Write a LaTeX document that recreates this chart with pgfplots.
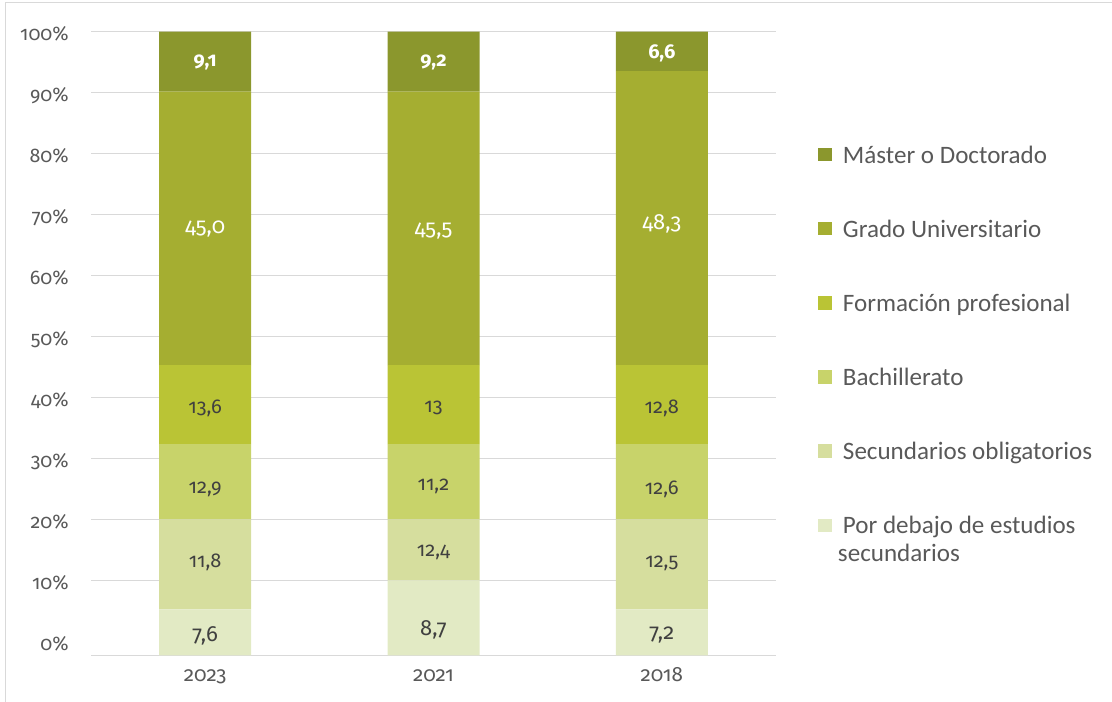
\documentclass[border=0pt]{standalone}
\usepackage{pgfplots}
\usepackage{pgfplotstable}
\pgfplotsset{compat=1.18}
\usepackage{fontspec}
\setmainfont{Carlito}
\newfontfamily\numfont{Fira Sans}[Numbers=OldStyle]
\definecolor{cMas}{HTML}{8B972D}
\definecolor{cGra}{HTML}{A5AE31}
\definecolor{cFP}{HTML}{BAC435}
\definecolor{cBac}{HTML}{C8D36A}
\definecolor{cSec}{HTML}{D6DE9E}
\definecolor{cPor}{HTML}{E2EAC4}
\definecolor{gridc}{HTML}{D9D9D9}
\definecolor{tickc}{HTML}{595959}
\definecolor{labc}{HTML}{404040}

% segment heights as drawn (the bars start slightly below the 0% line)
\pgfplotstableread{
x off por sec bac fp gra mas
0 -2.25 7.55 14.76 12.31 12.96 44.83 9.84
1 -2.25 12.31 10.00 12.31 12.96 44.83 9.84
2 -2.25 7.55 14.76 12.31 12.96 48.22 6.45
}\bars

\pgfplotstableread{
x y lab
0 1.0 7,6
1 1.9 8,7
2 1.0 7,2
}\lpor
\pgfplotstableread{
x y lab
0 13.0 11,8
1 14.6 12,4
2 12.8 12,5
}\lsec
\pgfplotstableread{
x y lab
0 25.0 12,9
1 25.4 11,2
2 25.0 12,6
}\lbac
\pgfplotstableread{
x y lab
0 38.3 13,6
1 38.3 13
2 38.3 12,8
}\lfp
\pgfplotstableread{
x y lab
0 67.6 45,0
1 67.4 45,5
2 68.5 48,3
}\lgra
\pgfplotstableread{
x y lab
0 94.9 9,1
1 94.9 9,2
2 96.5 6,6
}\lmas

\pgfplotsset{
  common/.style={
    scale only axis,
    width=513.75pt, height=467.7pt,
    at={(68.25pt,35pt)}, anchor=south west,
    xmin=-0.5, xmax=2.5, ymin=-2.25, ymax=100,
  },
}

\begin{document}
\begin{tikzpicture}
\useasboundingbox (0,0) rectangle (834pt,526.5pt);
\draw[gridc, line width=1.1pt] (4.3pt,0) -- (4.3pt,524.5pt) -- (834pt,524.5pt);

\begin{axis}[
  common,
  ybar stacked,
  stack negative=on previous,
  bar width=69pt,
  axis x line*=bottom,
  axis y line*=left,
  x axis line style={gridc, line width=1.1pt, -},
  y axis line style={draw=none},
  major tick length=0pt,
  xtick={0,1,2},
  xticklabels={2023,2021,2018},
  xticklabel style={font=\numfont\fontsize{15.5pt}{19pt}\selectfont, text=tickc, anchor=base, inner sep=0pt, yshift=-19.8pt},
  ytick={10,20,30,40,50,60,70,80,90,100},
  yticklabels={10\%,20\%,30\%,40\%,50\%,60\%,70\%,80\%,90\%,100\%},
  extra y ticks={0},
  extra y tick labels={0\%},
  extra y tick style={grid=none},
  yticklabel style={font=\numfont\fontsize{14.8pt}{18pt}\selectfont, text=tickc, anchor=base east, inner sep=0pt, xshift=-16.5pt, yshift=-6.75pt},
  ymajorgrids,
  major grid style={gridc, line width=1.1pt},
  legend style={
    at={(rel axis cs:1.0613,0.8169)}, anchor=north west,
    draw=none, fill=none, inner sep=0pt, outer sep=0pt,
    row sep=38.6pt, column sep=8.25pt,
    font=\fontsize{18.8pt}{22pt}\selectfont, text=tickc,
    nodes={inner sep=0pt, text height=13pt, text depth=4pt},
    cells={anchor=west},
  },
  legend image code/.code={\fill[#1] (0pt,-3pt) rectangle (10.5pt,7pt);},
  reverse legend,
]
\addplot[draw=none, fill=none] table[x=x, y=off] {\bars};
\addplot[fill=cPor, draw=none] table[x=x, y=por] {\bars};
\addlegendentry{\parbox[t]{220pt}{Por debajo de estudios\\[-1.5pt]\hspace*{-3.75pt}secundarios}}
\addplot[fill=cSec, draw=none] table[x=x, y=sec] {\bars};
\addlegendentry{Secundarios obligatorios}
\addplot[fill=cBac, draw=none] table[x=x, y=bac] {\bars};
\addlegendentry{Bachillerato}
\addplot[fill=cFP, draw=none] table[x=x, y=fp] {\bars};
\addlegendentry{Formación profesional}
\addplot[fill=cGra, draw=none] table[x=x, y=gra] {\bars};
\addlegendentry{Grado Universitario}
\addplot[fill=cMas, draw=none] table[x=x, y=mas] {\bars};
\addlegendentry{Máster o Doctorado}
\end{axis}

\begin{axis}[
  common,
  hide axis,
  nodes near coords,
  point meta=explicit symbolic,
  every node near coord/.append style={anchor=center, inner sep=0pt},
]
\addplot[draw=none, mark=none, every node near coord/.append style={text=labc, font=\numfont\fontsize{16.5pt}{20pt}\selectfont}] table[x=x, y=y, meta=lab] {\lpor};
\addplot[draw=none, mark=none, every node near coord/.append style={text=labc, font=\numfont\fontsize{15pt}{19pt}\selectfont}] table[x=x, y=y, meta=lab] {\lsec};
\addplot[draw=none, mark=none, every node near coord/.append style={text=labc, font=\numfont\fontsize{15pt}{19pt}\selectfont}] table[x=x, y=y, meta=lab] {\lbac};
\addplot[draw=none, mark=none, every node near coord/.append style={text=labc, font=\numfont\fontsize{15pt}{19pt}\selectfont}] table[x=x, y=y, meta=lab] {\lfp};
\addplot[draw=none, mark=none, every node near coord/.append style={text=white, font=\numfont\fontsize{16.5pt}{20pt}\selectfont}] table[x=x, y=y, meta=lab] {\lgra};
\addplot[draw=none, mark=none, every node near coord/.append style={text=white, font=\numfont\fontsize{15pt}{19pt}\selectfont\bfseries}] table[x=x, y=y, meta=lab] {\lmas};
\end{axis}
\end{tikzpicture}
\end{document}
